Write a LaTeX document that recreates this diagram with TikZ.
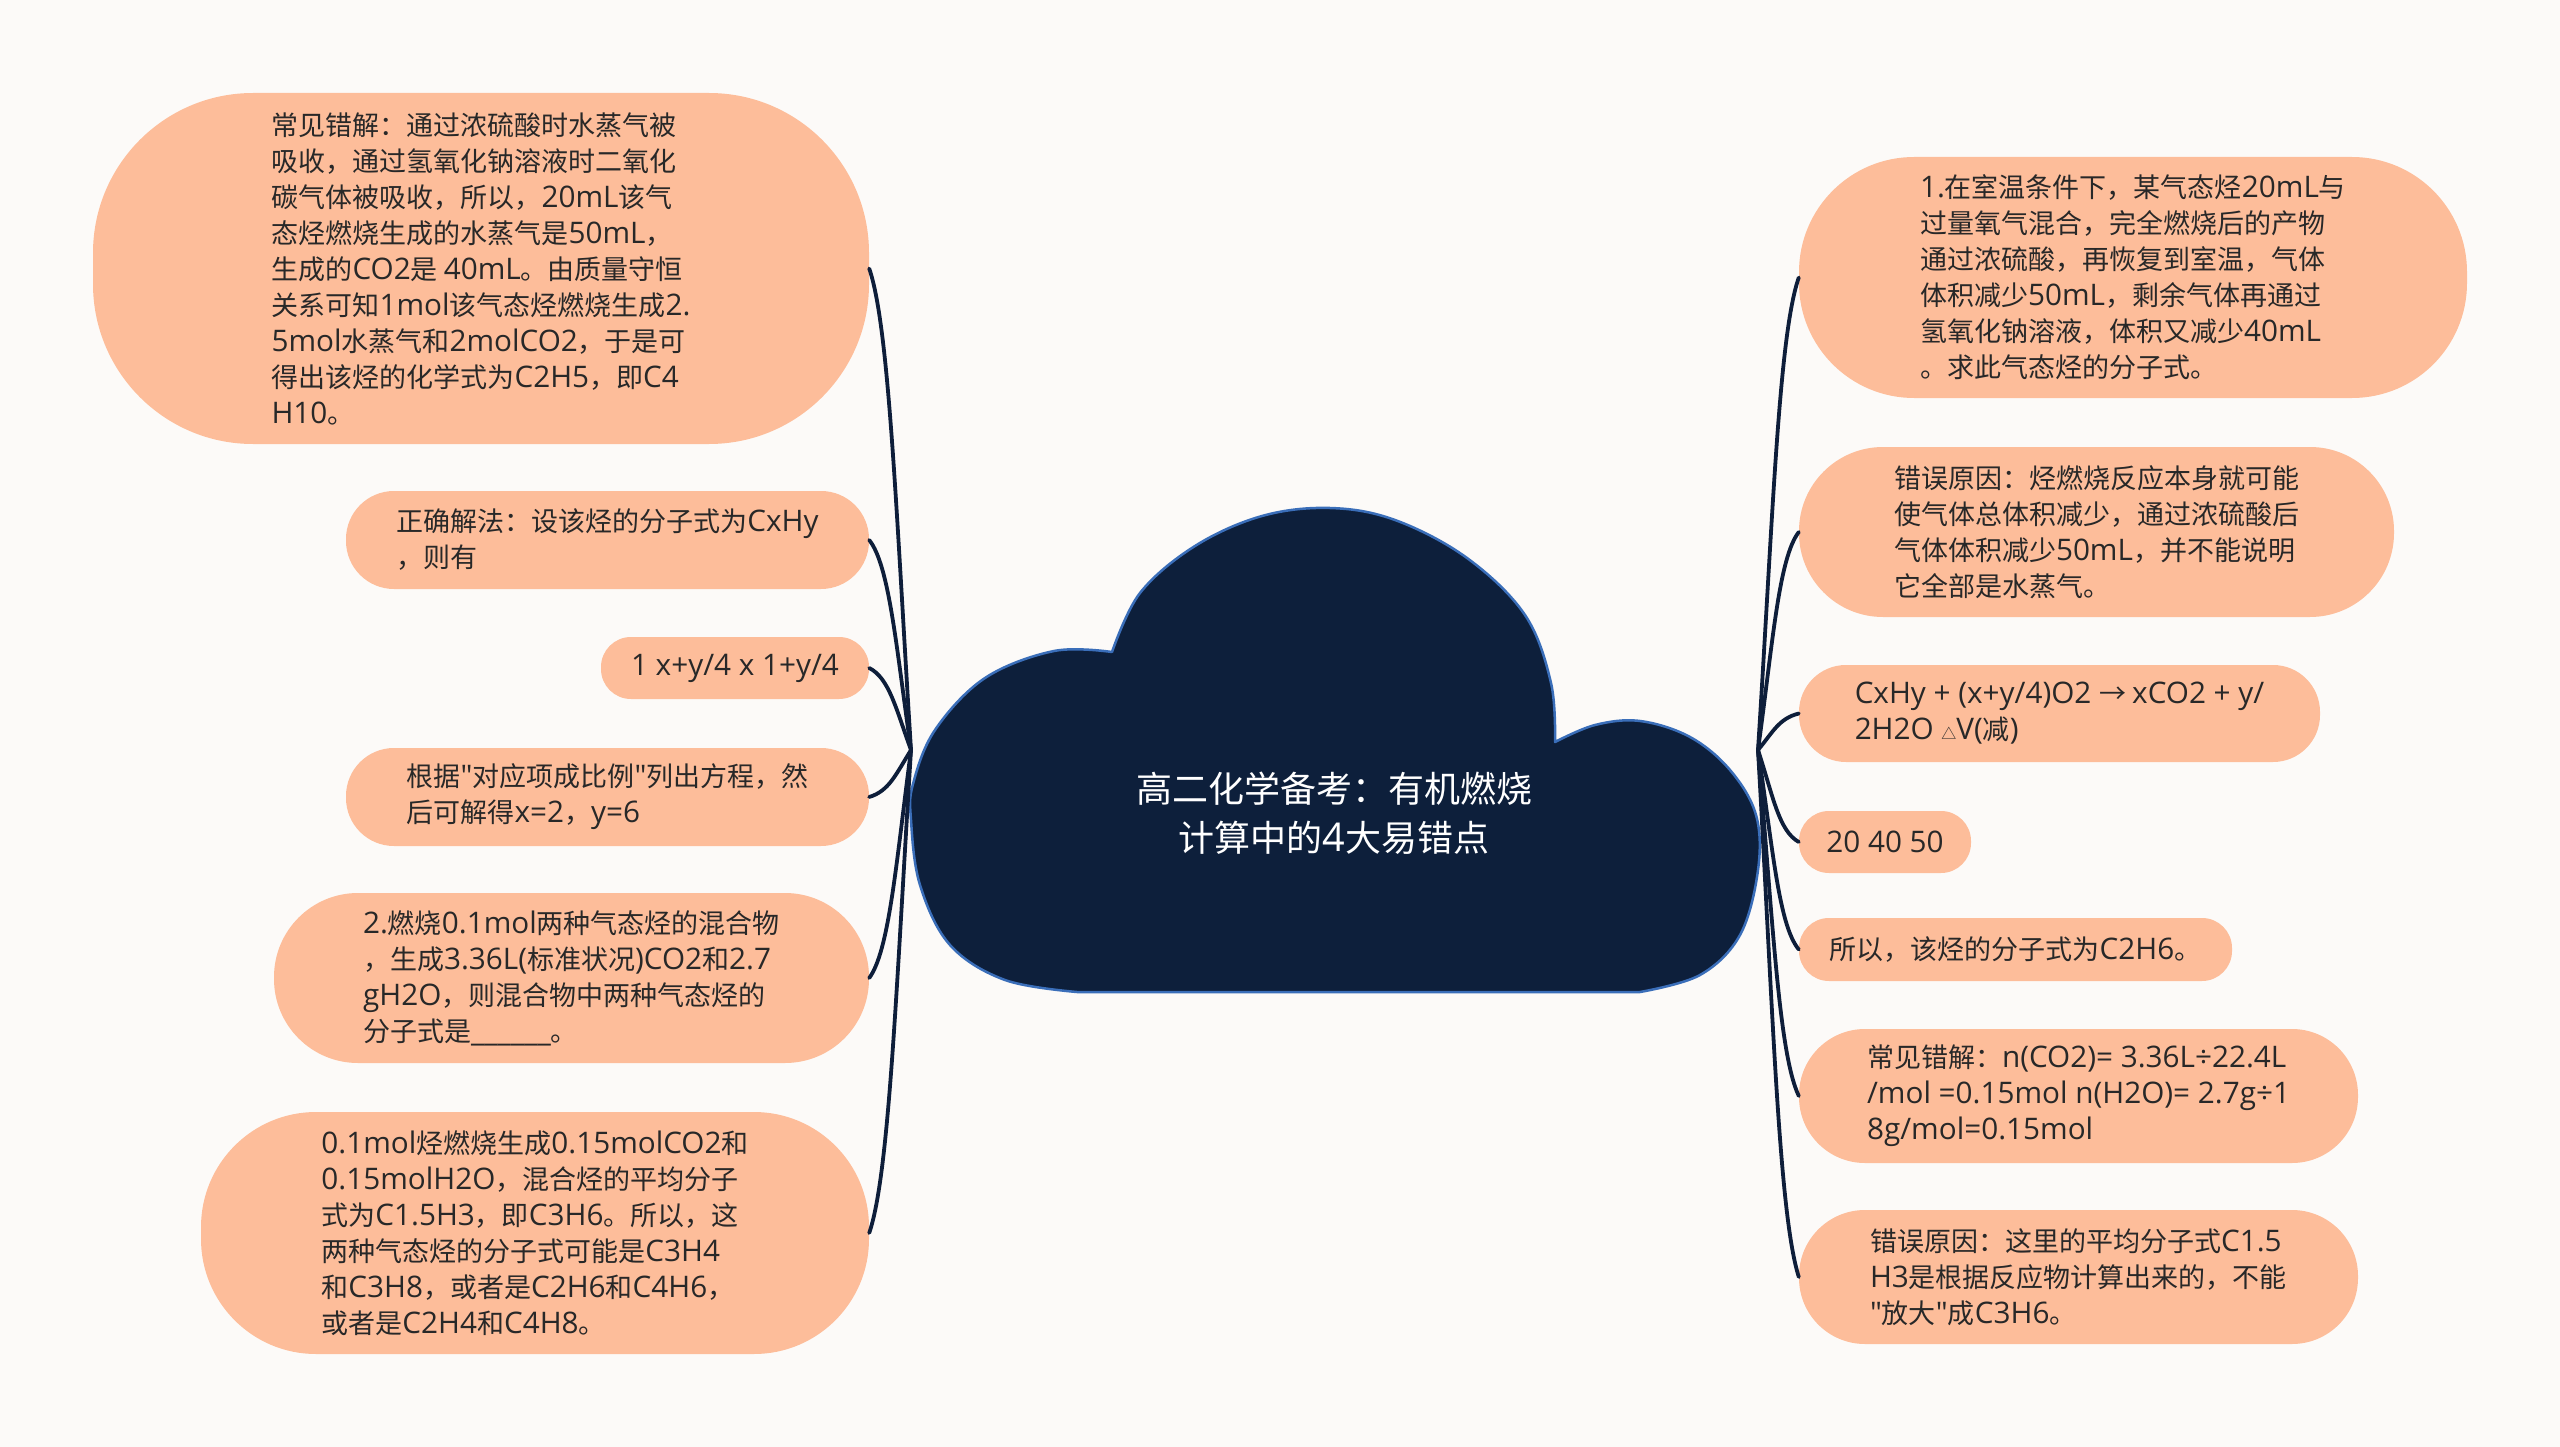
\documentclass[tikz,border=0pt]{standalone}
\usepackage{fontspec}
\setmainfont{Open Sans}[Ligatures=TeXOff,Scale=1.1]
\newfontfamily\latf{Open Sans}[Ligatures=TeXOff,Scale=1.1]
\newfontfamily\cjkf{Noto Sans CJK SC}[Ligatures=TeXOff]
\XeTeXinterchartokenstate=1
\newXeTeXintercharclass\cjkcls
\newcount\cc
\def\setcls#1#2{\cc=#1 \loop\ifnum\cc<#2 \XeTeXcharclass\cc=\cjkcls \advance\cc by 1 \repeat}
\setcls{"3000}{"3040}
\setcls{"4E00}{"A000}
\setcls{"FF00}{"FFF0}
\XeTeXcharclass"2192=\cjkcls
\XeTeXcharclass"25B3=\cjkcls
\XeTeXinterchartoks 0 \cjkcls = {\cjkf}
\XeTeXinterchartoks 4095 \cjkcls = {\cjkf}
\XeTeXinterchartoks \cjkcls 0 = {\latf}
\XeTeXinterchartoks 4095 0 = {\latf}
\definecolor{bg}{RGB}{252,250,248}
\definecolor{peach}{RGB}{253,189,154}
\definecolor{navy}{RGB}{14,30,58}
\definecolor{cloudfill}{RGB}{13,31,59}
\definecolor{cloudline}{RGB}{58,110,185}
\definecolor{txt}{RGB}{40,40,40}
\begin{document}
\begin{tikzpicture}[x=1pt,y=-1pt,
  box/.style={fill=peach, inner sep=0pt, align=left, text=txt, font=\fontsize{27}{36}\selectfont},
  conn/.style={draw=navy, line width=3.8pt, line cap=round},
  cloudshape/.style={fill=cloudfill, draw=cloudline, line width=2.5pt, line join=round}]
\useasboundingbox[fill=bg] (0,0) rectangle (2560,1447);

% central cloud
\path[cloudshape]
  plot[smooth, tension=0.6] coordinates {(1112,652) (1054,651) (985,678) (935,730) (913,784) (911,820) (920,885) (950,945) (1005,980) (1077,992)}
  -- plot[smooth, tension=0.6] coordinates {(1640,992) (1700,975) (1740,935) (1758,870) (1756,815) (1730,770) (1690,737) (1640,721) (1595,725) (1555,742)}
  -- plot[smooth, tension=0.6] coordinates {(1555,742) (1551,683) (1525,615) (1467,558) (1395,520) (1330,508) (1262,516) (1195,546) (1140,593) (1112,652)}
  -- cycle;
\node[font=\fontsize{36}{49}\selectfont, text=white, align=center] (T) at (1334,813) {高二化学备考：有机燃烧\\计算中的4大易错点};

\coordinate (hubL) at (911,750);
\coordinate (hubR) at (1758,750);

% left nodes
\node[box, minimum width=776pt, minimum height=351pt, rounded corners=160pt] (L1) at (481,268.5) {常见错解：通过浓硫酸时水蒸气被\\吸收，通过氢氧化钠溶液时二氧化\\碳气体被吸收，所以，20mL该气\\态烃燃烧生成的水蒸气是50mL，\\生成的CO2是 40mL。由质量守恒\\关系可知1mol该气态烃燃烧生成2.\\5mol水蒸气和2molCO2，于是可\\得出该烃的化学式为C2H5，即C4\\H10。};
\node[box, minimum width=523pt, minimum height=98pt, rounded corners=48pt] (L2) at (607.5,540) {正确解法：设该烃的分子式为CxHy\\，则有};
\node[box, minimum width=268pt, minimum height=62pt, rounded corners=30pt] (L3) at (735,668) {1 x+y/4 x 1+y/4};
\node[box, minimum width=523pt, minimum height=98pt, rounded corners=48pt] (L4) at (607.5,797) {根据"对应项成比例"列出方程，然\\后可解得x=2，y=6};
\node[box, minimum width=595pt, minimum height=170pt, rounded corners=84pt] (L5) at (571.5,978) {2.燃烧0.1mol两种气态烃的混合物\\，生成3.36L(标准状况)CO2和2.7\\gH2O，则混合物中两种气态烃的\\分子式是\_\_\_\_\_\_。};
\node[box, minimum width=668pt, minimum height=242pt, rounded corners=115pt] (L6) at (535,1233) {0.1mol烃燃烧生成0.15molCO2和\\0.15molH2O，混合烃的平均分子\\式为C1.5H3，即C3H6。所以，这\\两种气态烃的分子式可能是C3H4\\和C3H8，或者是C2H6和C4H6，\\或者是C2H4和C4H8。};

% right nodes
\node[box, minimum width=668pt, minimum height=241pt, rounded corners=115pt] (R1) at (2133,277.5) {1.在室温条件下，某气态烃20mL与\\过量氧气混合，完全燃烧后的产物\\通过浓硫酸，再恢复到室温，气体\\体积减少50mL，剩余气体再通过\\氢氧化钠溶液，体积又减少40mL\\。求此气态烃的分子式。};
\node[box, minimum width=595pt, minimum height=170pt, rounded corners=84pt] (R2) at (2096.5,532) {错误原因：烃燃烧反应本身就可能\\使气体总体积减少，通过浓硫酸后\\气体体积减少50mL，并不能说明\\它全部是水蒸气。};
\node[box, minimum width=521pt, minimum height=97pt, rounded corners=47pt] (R3) at (2059.5,713.5) {CxHy + (x+y/4)O2 → xCO2 + y/\\2H2O {\fontsize{15}{15}\selectfont △}V(减)};
\node[box, minimum width=172pt, minimum height=62pt, rounded corners=30pt] (R4) at (1885,842) {20 40 50};
\node[box, minimum width=433pt, minimum height=63pt, rounded corners=30pt] (R5) at (2015.5,949.5) {所以，该烃的分子式为C2H6。};
\node[box, minimum width=559pt, minimum height=134pt, rounded corners=66pt] (R6) at (2078.5,1096) {常见错解：n(CO2)= 3.36L÷22.4L\\/mol =0.15mol n(H2O)= 2.7g÷1\\8g/mol=0.15mol};
\node[box, minimum width=559pt, minimum height=134pt, rounded corners=66pt] (R7) at (2078.5,1277) {错误原因：这里的平均分子式C1.5\\H3是根据反应物计算出来的，不能\\"放大"成C3H6。};

% connectors left
\draw[conn] (hubL) .. controls +(-15,-240) and +(20,58) .. (L1.east);
\draw[conn] (hubL) .. controls +(-15,-105) and +(20,25) .. (L2.east);
\draw[conn] (hubL) .. controls +(-15,-41) and +(20,10) .. (L3.east);
\draw[conn] (hubL) .. controls +(-15,24) and +(20,-6) .. (L4.east);
\draw[conn] (hubL) .. controls +(-15,114) and +(20,-27) .. (L5.east);
\draw[conn] (hubL) .. controls +(-15,241) and +(20,-58) .. (L6.east);

% connectors right
\draw[conn] (hubR) .. controls +(15,-236) and +(-20,57) .. (R1.west);
\draw[conn] (hubR) .. controls +(15,-109) and +(-20,26) .. (R2.west);
\draw[conn] (hubR) .. controls +(15,-18) and +(-20,5) .. (R3.west);
\draw[conn] (hubR) .. controls +(15,46) and +(-20,-11) .. (R4.west);
\draw[conn] (hubR) .. controls +(15,100) and +(-20,-24) .. (R5.west);
\draw[conn] (hubR) .. controls +(15,173) and +(-20,-42) .. (R6.west);
\draw[conn] (hubR) .. controls +(15,263) and +(-20,-63) .. (R7.west);
\end{tikzpicture}
\end{document}
